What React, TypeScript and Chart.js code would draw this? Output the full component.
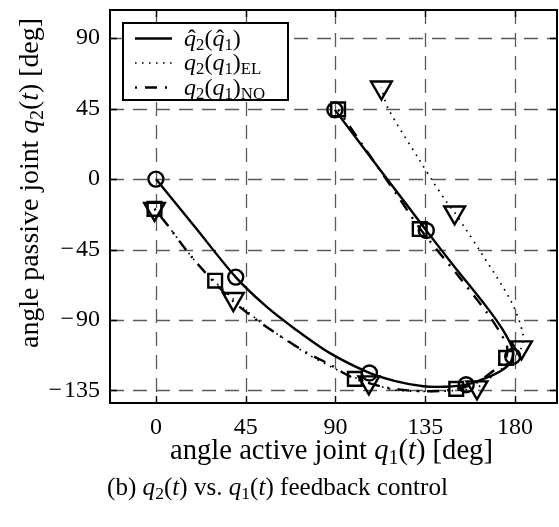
import React, { useEffect, useRef } from 'react';
import { Chart, registerables } from 'chart.js';

Chart.register(...registerables);

// ---------- data ----------
const xTickValues = [0, 45, 90, 135, 180];
const yTickValues = [-135, -90, -45, 0, 45, 90];
const xMin = -23;
const xMax = 201;
const yMin = -143;
const yMax = 108;

// estimated trajectory  \hat q2(\hat q1)  (solid)
const solidQ1 = [0, 20, 40, 55, 70, 87, 107, 120, 134, 145, 155.5, 165.5, 173.8, 178, 178.8, 173.8, 165.5, 149, 135.5, 112.5, 89.7];
const solidQ2 = [0, -31.3, -62.6, -81, -96, -111, -123.8, -129, -132.3, -132.6, -131.3, -127, -121.7, -116.4, -109, -96.2, -81.3, -55, -32.8, 5.7, 44.2];

// q2(q1)_EL  (dotted)
const elQ1 = [-0.7, 5, 15, 21.3, 30, 38.8, 50, 62, 75, 88, 97, 106.7, 118.8, 130.5, 140.5, 150, 160.9, 166, 172, 178, 183.2, 183.8, 178, 162, 155.5, 149.7, 145.5, 138.8, 132, 116.3, 113];
const elQ2 = [-19, -28, -45, -54.7, -66, -76.6, -89, -100, -111, -120, -125.5, -129.8, -134.5, -135.5, -135.5, -135, -133, -128.5, -122.5, -115.5, -107.5, -98.3, -78, -45.1, -32.4, -21.3, -14.3, -1.5, 12.3, 45.3, 58.5];

// q2(q1)_NO  (dash-dot)
const noQ1 = [-0.7, 5, 15, 21.3, 30, 39.5, 50, 62, 75, 87.2, 94, 100, 113.8, 125, 133.7, 142, 150.5, 160, 167, 172, 175.5, 176, 172.5, 166.3, 151, 132.5, 121.3, 109.7, 91.3];
const noQ2 = [-19, -28, -45, -54.7, -67, -79, -89.5, -100, -110.5, -118.5, -123.8, -127.6, -132.7, -134.8, -135.5, -135.3, -134, -130.5, -124.5, -119.5, -114.2, -107, -98, -86, -61, -31.9, -11, 10.4, 44.5];

// markers
const solidMarkQ1 = [0, 40, 107, 155.5, 178.8, 135.5, 89.7];
const solidMarkQ2 = [0, -62.6, -123.8, -131.3, -113.2, -32.8, 44.2];
const elMarkQ1 = [-0.7, 38.8, 106.7, 160.9, 183.2, 149.7, 113];
const elMarkQ2 = [-19, -76.6, -129.8, -133, -107.5, -21.3, 58.5];
const noMarkQ1 = [-0.7, 29.7, 99.7, 150.5, 175.5, 132.2, 91.3];
const noMarkQ2 = [-19, -64.9, -127.6, -134, -114.2, -31.9, 44.5];

// ---------- styling ----------
const FONT = "'Liberation Serif', 'Times New Roman', serif";
const SOLID_DASH: number[] = [];
const EL_DASH = [1.6, 5.4];
const NO_DASH = [2, 8, 12, 8];

type Seg = { t: string; it?: boolean; sub?: boolean; hat?: boolean };

const xTitle: Seg[] = [
  { t: 'angle active joint ' }, { t: 'q', it: true }, { t: '1', sub: true },
  { t: '(' }, { t: 't', it: true }, { t: ') [deg]' },
];
const yTitle: Seg[] = [
  { t: 'angle passive joint ' }, { t: 'q', it: true }, { t: '2', sub: true },
  { t: '(' }, { t: 't', it: true }, { t: ') [deg]' },
];
const caption: Seg[] = [
  { t: '(b) ' }, { t: 'q', it: true }, { t: '2', sub: true }, { t: '(' }, { t: 't', it: true }, { t: ') vs. ' },
  { t: 'q', it: true }, { t: '1', sub: true }, { t: '(' }, { t: 't', it: true }, { t: ') feedback control' },
];
const legendEntries: { segs: Seg[]; dash: number[]; width: number }[] = [
  { segs: [{ t: 'q', it: true, hat: true }, { t: '2', sub: true }, { t: '(' }, { t: 'q', it: true, hat: true }, { t: '1', sub: true }, { t: ')' }], dash: SOLID_DASH, width: 2.4 },
  { segs: [{ t: 'q', it: true }, { t: '2', sub: true }, { t: '(' }, { t: 'q', it: true }, { t: '1', sub: true }, { t: ')' }, { t: 'EL', sub: true }], dash: EL_DASH, width: 1.7 },
  { segs: [{ t: 'q', it: true }, { t: '2', sub: true }, { t: '(' }, { t: 'q', it: true }, { t: '1', sub: true }, { t: ')' }, { t: 'NO', sub: true }], dash: NO_DASH, width: 2.4 },
];

function segFont(s: Seg, size: number) {
  const fs = s.sub ? size * 0.7 : size;
  return `${s.it ? 'italic ' : ''}${fs}px ${FONT}`;
}
function richWidth(ctx: CanvasRenderingContext2D, segs: Seg[], size: number) {
  let w = 0;
  for (const s of segs) {
    ctx.font = segFont(s, size);
    w += ctx.measureText(s.t).width;
  }
  return w;
}
function drawRich(ctx: CanvasRenderingContext2D, segs: Seg[], x: number, y: number, size: number, align: 'left' | 'center') {
  const w = richWidth(ctx, segs, size);
  let cx = align === 'center' ? x - w / 2 : x;
  ctx.textAlign = 'left';
  ctx.textBaseline = 'alphabetic';
  ctx.fillStyle = '#000';
  for (const s of segs) {
    ctx.font = segFont(s, size);
    const dy = s.sub ? size * 0.17 : 0;
    ctx.fillText(s.t, cx, y + dy);
    const sw = ctx.measureText(s.t).width;
    if (s.hat) {
      ctx.save();
      ctx.font = `${size}px ${FONT}`;
      ctx.textAlign = 'center';
      ctx.fillText('\u02C6', cx + sw / 2 + size * 0.07, y + size * 0.02);
      ctx.restore();
    }
    cx += sw;
  }
}
function fitSize(ctx: CanvasRenderingContext2D, segs: Seg[], target: number) {
  const w = richWidth(ctx, segs, 20);
  return (20 * target) / w;
}

const fmt = (v: number | string) => {
  const n = Number(v);
  return n < 0 ? '\u2212\u200A' + Math.abs(n) : String(n);
};

const decorPlugin = {
  id: 'decor',
  beforeDatasetsDraw(chart: any) {
    const { ctx, chartArea: a, scales } = chart;
    ctx.save();
    ctx.strokeStyle = '#5a5a5a';
    ctx.lineWidth = 1.3;
    ctx.setLineDash([14, 9]);
    for (const v of xTickValues) {
      const px = Math.round(scales.x.getPixelForValue(v)) + 0.5;
      ctx.beginPath();
      ctx.moveTo(px, a.top);
      ctx.lineTo(px, a.bottom);
      ctx.stroke();
    }
    for (const v of yTickValues) {
      const py = Math.round(scales.y.getPixelForValue(v)) + 0.5;
      ctx.beginPath();
      ctx.moveTo(a.left, py);
      ctx.lineTo(a.right, py);
      ctx.stroke();
    }
    ctx.restore();
  },
  afterDraw(chart: any) {
    const { ctx, chartArea: a, scales } = chart;
    ctx.save();
    // inner ticks
    ctx.strokeStyle = '#000';
    ctx.lineWidth = 1.4;
    ctx.setLineDash([]);
    const tl = 7;
    for (const v of xTickValues) {
      const px = Math.round(scales.x.getPixelForValue(v)) + 0.5;
      ctx.beginPath();
      ctx.moveTo(px, a.bottom); ctx.lineTo(px, a.bottom - tl);
      ctx.moveTo(px, a.top); ctx.lineTo(px, a.top + tl);
      ctx.stroke();
    }
    for (const v of yTickValues) {
      const py = Math.round(scales.y.getPixelForValue(v)) + 0.5;
      ctx.beginPath();
      ctx.moveTo(a.left, py); ctx.lineTo(a.left + tl, py);
      ctx.moveTo(a.right, py); ctx.lineTo(a.right - tl, py);
      ctx.stroke();
    }
    // frame
    ctx.lineWidth = 2;
    ctx.strokeRect(a.left, a.top, a.right - a.left, a.bottom - a.top);

    // legend
    const lx = a.left + 13, ly = a.top + 13, lw = 165, lh = 77;
    ctx.fillStyle = '#fff';
    ctx.fillRect(lx, ly, lw, lh);
    ctx.lineWidth = 2;
    ctx.strokeRect(lx, ly, lw, lh);
    const rows = [ly + 15.5, ly + 40, ly + 64.5];
    legendEntries.forEach((e, i) => {
      ctx.save();
      ctx.strokeStyle = '#000';
      ctx.lineWidth = e.width;
      ctx.setLineDash(e.dash);
      ctx.beginPath();
      ctx.moveTo(lx + 12, rows[i]);
      ctx.lineTo(lx + 49, rows[i]);
      ctx.stroke();
      ctx.restore();
      drawRich(ctx, e.segs, lx + 61, rows[i] + 7, 24, 'left');
    });

    // axis titles
    const xs = fitSize(ctx, xTitle, 323);
    drawRich(ctx, xTitle, 331.5, 459, xs, 'center');
    const ys = fitSize(ctx, yTitle, 330);
    ctx.save();
    ctx.translate(38, 183);
    ctx.rotate(-Math.PI / 2);
    drawRich(ctx, yTitle, 0, 0, ys, 'center');
    ctx.restore();

    // caption
    const cs = fitSize(ctx, caption, 341);
    drawRich(ctx, caption, 277.5, 495, cs, 'center');
    ctx.restore();
  },
};

const pts = (xs: number[], ys: number[]) => xs.map((x, i) => ({ x, y: ys[i] }));
const zeroPad = (s: any) => { s.paddingTop = 0; s.paddingBottom = 0; s.paddingLeft = 0; s.paddingRight = 0; };

export default function App() {
  const ref = useRef<HTMLCanvasElement | null>(null);
  useEffect(() => {
    if (!ref.current) return;
    const lineBase = { showLine: true, pointRadius: 0, fill: false, borderColor: '#000', tension: 0.3, borderCapStyle: 'butt' };
    const markBase = { showLine: false, borderColor: '#000', backgroundColor: 'rgba(0,0,0,0)', pointBorderWidth: 2.4, borderWidth: 2.4 };
    const chart = new Chart(ref.current, {
      type: 'scatter',
      data: {
        datasets: [
          { ...lineBase, label: 'EL', data: pts(elQ1, elQ2), borderWidth: 1.7, borderDash: EL_DASH, order: 6 },
          { ...lineBase, label: 'NO', data: pts(noQ1, noQ2), borderWidth: 2.4, borderDash: NO_DASH, order: 5 },
          { ...lineBase, label: 'solid', data: pts(solidQ1, solidQ2), borderWidth: 2.4, order: 4 },
          { ...markBase, label: 'm-el', data: pts(elMarkQ1, elMarkQ2), pointStyle: 'triangle', pointRotation: 180, pointRadius: 12, order: 3 },
          { ...markBase, label: 'm-no', data: pts(noMarkQ1, noMarkQ2), pointStyle: 'rect', pointRadius: 9.7, order: 2 },
          { ...markBase, label: 'm-solid', data: pts(solidMarkQ1, solidMarkQ2), pointStyle: 'circle', pointRadius: 7.5, order: 1 },
        ] as any,
      },
      options: {
        responsive: false,
        animation: false,
        layout: { autoPadding: false, padding: { top: 10, right: 2, left: 0, bottom: 74 } },
        plugins: { legend: { display: false }, tooltip: { enabled: false } },
        scales: {
          x: {
            type: 'linear', min: xMin, max: xMax,
            afterBuildTicks: (s: any) => { s.ticks = xTickValues.map((v) => ({ value: v })); },
            afterFit: (s: any) => { s.height = 50; zeroPad(s); },
            grid: { display: false, drawTicks: false }, border: { display: false },
            ticks: { font: { family: FONT, size: 24 }, color: '#000', padding: 10, maxRotation: 0, autoSkip: false, callback: fmt },
          },
          y: {
            type: 'linear', min: yMin, max: yMax,
            afterBuildTicks: (s: any) => { s.ticks = yTickValues.map((v) => ({ value: v })); },
            afterFit: (s: any) => { s.width = 110; zeroPad(s); },
            grid: { display: false, drawTicks: false }, border: { display: false },
            ticks: { font: { family: FONT, size: 24 }, color: '#000', padding: 10, autoSkip: false, callback: fmt },
          },
        },
      } as any,
      plugins: [decorPlugin],
    });
    return () => chart.destroy();
  }, []);
  return (
    <div style={{ position: 'absolute', left: 0, top: 0, width: 559, height: 527, background: '#fff' }}>
      <canvas ref={ref} width={559} height={527} style={{ display: 'block' }} />
    </div>
  );
}
